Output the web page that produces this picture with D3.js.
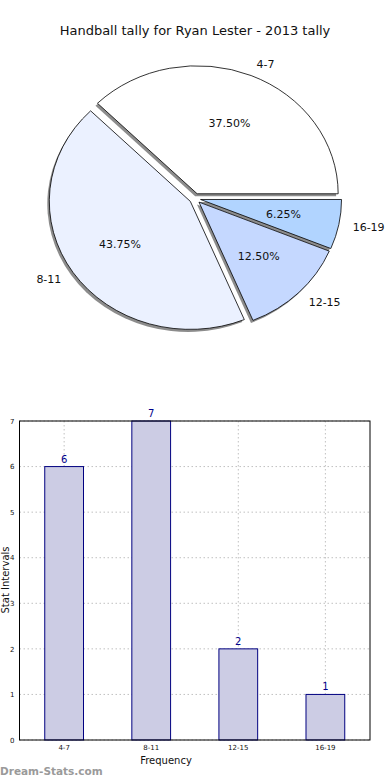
<!DOCTYPE html>
<html><head><meta charset="utf-8">
<script src="https://cdn.jsdelivr.net/npm/d3@7"></script>
<style>body{margin:0;background:#fff}svg{display:block;font-family:"DejaVu Sans",sans-serif}</style>
</head><body>
<script>
const categories = ["4-7","8-11","12-15","16-19"];
const values = [6,7,2,1];
const pieColors = ["#ffffff","#ebf1ff","#c5d8ff","#b1d4ff"];
const yTicks = [0,1,2,3,4,5,6,7];
const title = "Handball tally for Ryan Lester - 2013 tally";

const W=390,H=780;
const svg=d3.select("body").append("svg").attr("width",W).attr("height",H);
svg.append("rect").attr("width",W).attr("height",H).attr("fill","#fff");

svg.append("text").attr("x",195).attr("y",35).attr("text-anchor","middle")
  .attr("font-size",13).attr("fill","#111").text(title);

// ---- Pie ----
const cx=195, cy=198.5, rx=141, ry=128, explode=0.04;
const total=d3.sum(values);
const pie=d3.pie().sort(null).startAngle(Math.PI/2).endAngle(Math.PI/2-2*Math.PI);
const arcs=pie(values);
const arc=d3.arc().innerRadius(0).outerRadius(1);
function off(d){const a=(d.startAngle+d.endAngle)/2;return [Math.sin(a)*explode,-Math.cos(a)*explode];}
// shadows
const sh=svg.append("g").attr("transform",`translate(${cx-2},${cy+2.5}) scale(${rx},${ry})`);
sh.selectAll("path").data(arcs).enter().append("path")
  .attr("transform",d=>{const o=off(d);return `translate(${o[0]},${o[1]})`;})
  .attr("d",arc).attr("fill","#808080").attr("opacity",0.9);
const pg=svg.append("g").attr("transform",`translate(${cx},${cy}) scale(${rx},${ry})`);
pg.selectAll("path").data(arcs).enter().append("path")
  .attr("transform",d=>{const o=off(d);return `translate(${o[0]},${o[1]})`;})
  .attr("d",arc).attr("fill",(d,i)=>pieColors[i]).attr("stroke","#000")
  .attr("stroke-width",0.8).attr("vector-effect","non-scaling-stroke");
arcs.forEach((d,i)=>{
  const a=(d.startAngle+d.endAngle)/2, o=off(d);
  const ex=cx+o[0]*rx, ey=cy+o[1]*ry;
  const sx=Math.sin(a), cyy=-Math.cos(a);
  const lx=ex+1.1*rx*sx, ly=ey+1.1*ry*cyy;
  svg.append("text").attr("x",lx).attr("y",ly).attr("dy","0.35em")
    .attr("text-anchor",sx>0?"start":"end").attr("font-size",11).attr("fill","#111").text(categories[i]);
  const px=ex+0.6*rx*sx, py=ey+0.6*ry*cyy;
  svg.append("text").attr("x",px).attr("y",py).attr("dy","0.35em")
    .attr("text-anchor","middle").attr("font-size",11).attr("fill","#111")
    .text((values[i]/total*100).toFixed(2)+"%");
});

// ---- Bar chart ----
const L=19.5,R=370,T=421,B=740;
const x=d3.scaleBand().domain(categories).range([L,R]).paddingInner(0.555).paddingOuter(0.29);
const y=d3.scaleLinear().domain([0,7]).range([B,T]);
const g=svg.append("g");
// grid
g.selectAll(".gy").data(yTicks).enter().append("line")
  .attr("x1",L).attr("x2",R).attr("y1",d=>y(d)).attr("y2",d=>y(d))
  .attr("stroke","#c0c0c0").attr("stroke-dasharray","1.5,2.5");
g.selectAll(".gx").data(categories).enter().append("line")
  .attr("x1",d=>x(d)+x.bandwidth()/2).attr("x2",d=>x(d)+x.bandwidth()/2).attr("y1",T).attr("y2",B)
  .attr("stroke","#c0c0c0").attr("stroke-dasharray","1.5,2.5");
// bars
g.selectAll(".bar").data(values).enter().append("rect")
  .attr("x",(d,i)=>x(categories[i])).attr("width",x.bandwidth())
  .attr("y",d=>y(d)).attr("height",d=>B-y(d))
  .attr("fill","#ccccE4").attr("stroke","#000080").attr("stroke-width",1);
g.selectAll(".vl").data(values).enter().append("text")
  .attr("x",(d,i)=>x(categories[i])+x.bandwidth()/2).attr("y",d=>y(d)-4)
  .attr("text-anchor","middle").attr("font-size",10).attr("fill","#00008b").text(d=>d);
// frame
g.append("rect").attr("x",L).attr("y",T).attr("width",R-L).attr("height",B-T)
  .attr("fill","none").attr("stroke","#000").attr("stroke-width",1);
// axes
const ya=svg.append("g").attr("transform",`translate(${L},0)`)
  .call(d3.axisLeft(y).tickValues(yTicks).tickFormat(d3.format("d")).tickSize(0).tickPadding(5));
ya.select(".domain").remove();
ya.selectAll("text").attr("font-size",7).attr("font-family","DejaVu Sans").attr("fill","#111");
const xa=svg.append("g").attr("transform",`translate(0,${B})`)
  .call(d3.axisBottom(x).tickSize(0).tickPadding(5));
xa.select(".domain").remove();
xa.selectAll("text").attr("font-size",7).attr("font-family","DejaVu Sans").attr("fill","#111");

svg.append("text").attr("x",166).attr("y",764).attr("text-anchor","middle")
  .attr("font-size",10).attr("fill","#111").text("Frequency");
svg.append("text").attr("transform",`translate(9,580) rotate(-90)`).attr("text-anchor","middle")
  .attr("font-size",10).attr("fill","#111").text("Stat Intervals");
svg.append("text").attr("x",0).attr("y",775).attr("font-size",10.5).attr("font-weight","bold")
  .attr("fill","#9a9a9a").text("Dream-Stats.com");
</script>
</body></html>
